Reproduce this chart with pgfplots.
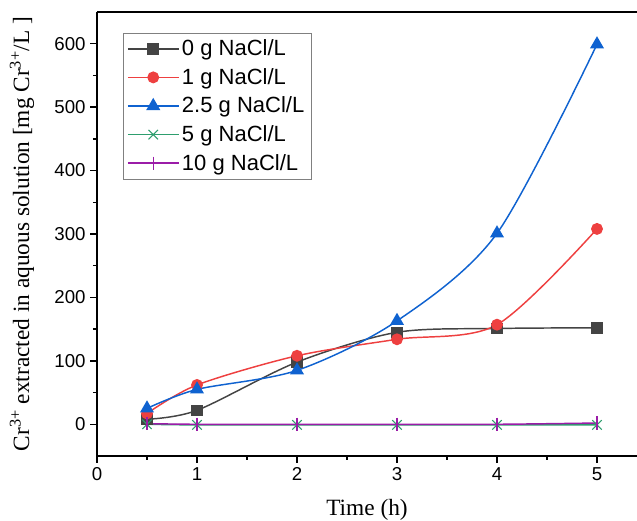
\documentclass[border=0pt]{standalone}
\usepackage{pgfplots}
\pgfplotsset{compat=1.18}
\usepackage{fontspec}
\setmainfont{Liberation Serif}
\newfontfamily\arial{Liberation Sans}

\definecolor{cGray}{HTML}{444444}
\definecolor{cRed}{HTML}{EE4040}
\definecolor{cBlue}{HTML}{0F62D0}
\definecolor{cGreen}{HTML}{2E9E6E}
\definecolor{cPurple}{HTML}{9B1CA8}

\begin{document}
\begin{tikzpicture}[x=0.75pt,y=0.75pt]
\begin{axis}[
  scale only axis,
  width=405pt, height=333pt,
  xmin=0, xmax=5.4, ymin=-50, ymax=650,
  axis x line*=bottom, axis y line*=left,
  axis line style={-, line width=1.1pt},
  xtick={0,1,2,3,4,5}, ytick={0,100,200,300,400,500,600},
  minor x tick num=1, minor y tick num=1,
  tick align=outside,
  major tick length=5pt, minor tick length=3pt,
  every tick/.style={black, line width=1pt},
  tick label style={font=\arial\fontsize{14}{16}\selectfont},
  /pgf/number format/assume math mode=true,
  xlabel={Time (h)},
  ylabel={Cr\textsuperscript{3+} extracted in aquous solution [mg Cr\textsuperscript{3+}/L ]},
  every axis x label/.style={at={(axis description cs:0.5,-0.122)}, anchor=center,
    font=\fontsize{17.5}{20}\selectfont},
  every axis y label/.style={at={(axis description cs:-0.139,0.5)}, rotate=90, anchor=center,
    font=\fontsize{17.5}{20}\selectfont},
  legend style={at={(axis description cs:0.048,0.953)}, anchor=north west,
    draw=gray, font=\arial\fontsize{16.5}{19}\selectfont,
    inner xsep=3pt, inner ysep=3pt, row sep=4pt},
  legend cell align=left,
  legend image post style={line width=1.1pt},
  legend image code/.code={\draw[mark repeat=2,mark phase=2,#1]
    plot coordinates {(0pt,0pt) (19pt,0pt) (38pt,0pt)};},
]
% 0 g NaCl/L
\addplot[color=cGray, line width=1.1pt, smooth, mark=square*, mark size=3.8pt]
  coordinates {(0.5,8) (1,22) (2,98) (3,145) (4,151) (5,152)};
\addlegendentry{0 g NaCl/L}
% 1 g NaCl/L
\addplot[color=cRed, line width=1.1pt, smooth, mark=*, mark size=3.9pt]
  coordinates {(0.5,17) (1,62) (2,108) (3,134) (4,157) (5,308)};
\addlegendentry{1 g NaCl/L}
% 2.5 g NaCl/L
\addplot[color=cBlue, line width=1.1pt, smooth, mark=triangle*, mark size=5pt]
  coordinates {(0.5,25) (1,55) (2,85) (3,163) (4,301) (5,599)};
\addlegendentry{2.5 g NaCl/L}
% 5 g NaCl/L
\addplot[color=cGreen, line width=1.1pt, smooth, mark=x, mark size=5pt, mark options={line width=0.8pt}]
  coordinates {(0.5,0) (1,-1) (2,-1) (3,-1) (4,-1) (5,-1)};
\addlegendentry{5 g NaCl/L}
% 10 g NaCl/L
\addplot[color=cPurple, line width=1.1pt, smooth, mark=|, mark size=5pt, mark options={line width=0.8pt}]
  coordinates {(0.5,1) (1,0) (2,0) (3,0) (4,0) (5,2)};
\addlegendentry{10 g NaCl/L}
% top frame line
\draw[line width=1.1pt] (rel axis cs:0,1) -- (rel axis cs:1,1);
\end{axis}
\pgfresetboundingbox
\path[use as bounding box] ([xshift=-72.75pt,yshift=-48.75pt]current axis.south west)
  rectangle ([yshift=9pt]current axis.north east);
\end{tikzpicture}
\end{document}
